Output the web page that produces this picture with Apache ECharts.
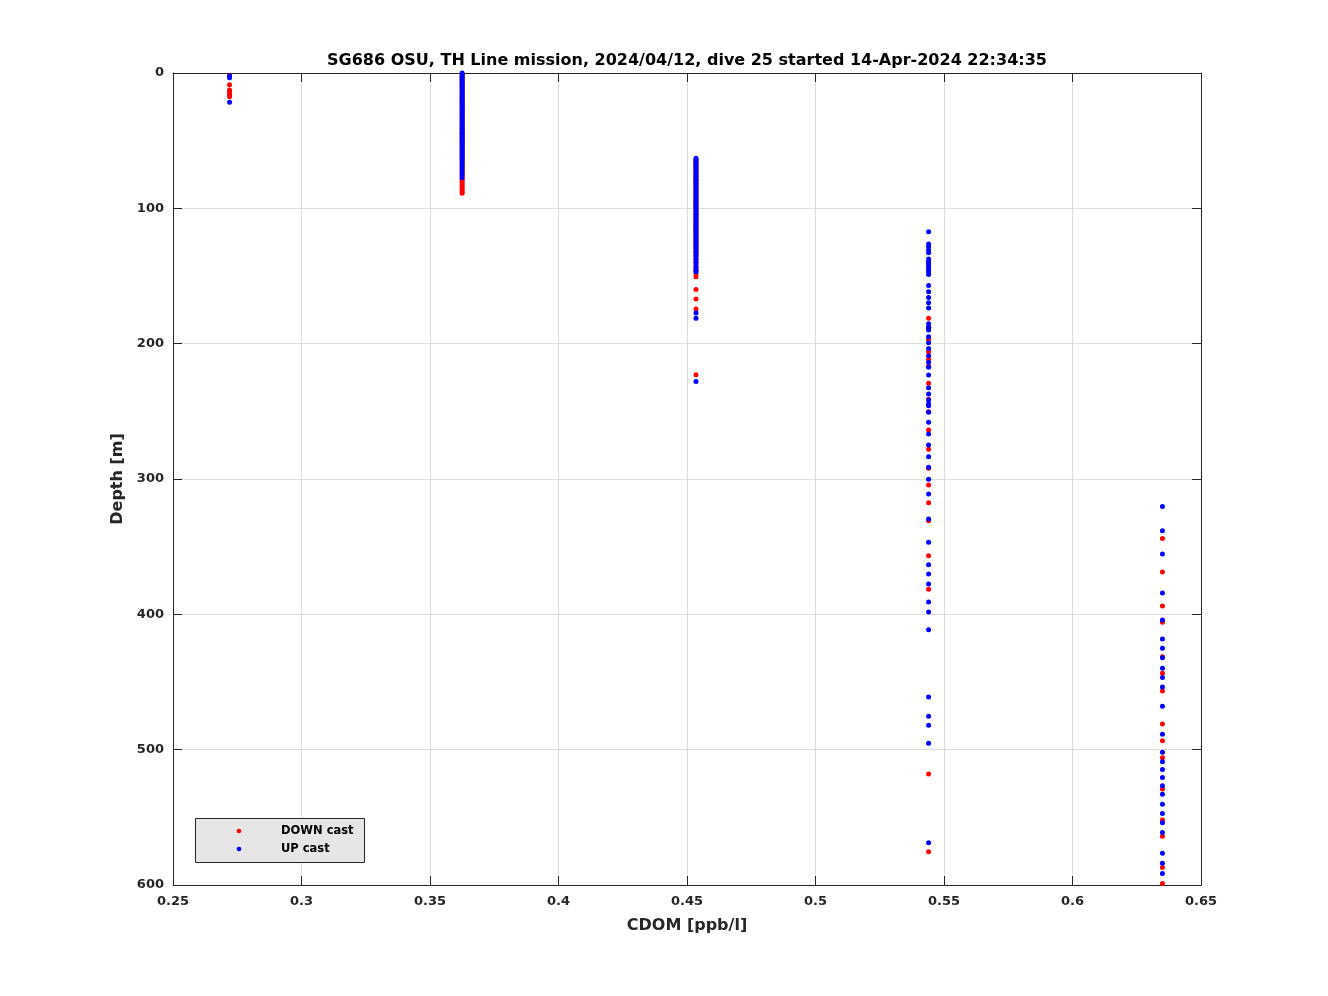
<!DOCTYPE html>
<html>
<head>
<meta charset="utf-8">
<script src="https://cdn.jsdelivr.net/npm/echarts@6/dist/echarts.min.js"></script>
<style>html,body{margin:0;padding:0;background:#fff;}#c{width:1328px;height:996px;}</style>
</head>
<body>
<div id="c"></div>
<script>
// CDOM levels (ppb/l) of the five quantised columns
const cdomLevels = [0.272, 0.3625, 0.4535, 0.544, 0.635];
const xTicks = [0.25, 0.3, 0.35, 0.4, 0.45, 0.5, 0.55, 0.6, 0.65];
const yTicks = [0, 100, 200, 300, 400, 500, 600];

// DOWN cast depths (m), per column
const down1 = [2, 8.6, 12.6, 14.3, 16, 17.5];
const down2 = [0.6, 2.4, 4.3, 6.2, 8.1, 10, 12, 14, 16, 18, 20.1, 22.2, 24.3, 26.4, 28.5, 30.6, 32.7, 34.8, 36.9, 39, 41.1, 43.2, 45.3, 47.4, 49.5, 51.6, 53.7, 55.8, 57.9, 60, 62.1, 64.2, 66.3, 68.4, 70.5, 72.4, 74.2, 76, 77.7, 79.3, 80.8, 82.2, 83.6, 85, 86.3, 87.6, 88.8];
const down3 = [64.5, 66.8, 69.2, 71.6, 74, 76.5, 79, 81.5, 84, 86.5, 89, 91.5, 94, 96.5, 99, 101.5, 104, 106.5, 109, 111.5, 114, 116.5, 119, 121.5, 124, 126.6, 129.2, 131.9, 134.6, 137.4, 140.2, 143.1, 146, 148.5, 150.5, 160, 167, 174.4, 223];
const down4 = [181.3, 187.9, 196.8, 205.9, 211.6, 216.5, 229.3, 241.1, 250.3, 263.8, 278.1, 292.1, 304.4, 317.5, 330.8, 356.7, 381.5, 518, 575.4];
const down5 = [343.9, 368.7, 393.9, 405.9, 431.3, 443.6, 456.7, 481.1, 493.4, 506, 529.1, 552, 563.9, 587, 598.9];

// UP cast depths (m), per column
const up1 = [2.2, 3.5, 21.7];
const up2 = [0, 1.2, 2.5, 3.6, 4.9, 6.1, 7.4, 8.6, 9.8, 11.1, 12.3, 13.5, 14.8, 16, 17.3, 18.5, 19.7, 21, 22.2, 23.4, 24.7, 25.9, 27.2, 28.4, 29.6, 30.9, 32.1, 33.3, 34.6, 35.8, 37.1, 38.3, 39.5, 40.8, 42, 43.2, 44.5, 45.7, 47, 48.2, 49.4, 50.7, 51.9, 53.1, 54.4, 55.6, 56.9, 58.1, 59.3, 60.6, 61.8, 63, 64.3, 65.8, 67.4, 69.1, 70.9, 72.8, 74.9, 77.3];
const up3 = [63, 64.1, 65.3, 66.4, 67.6, 68.7, 69.9, 71, 72.2, 73.3, 74.5, 75.6, 76.8, 77.9, 79.1, 80.2, 81.4, 82.5, 83.7, 84.8, 86, 87.1, 88.3, 89.4, 90.6, 91.7, 92.9, 94, 95.2, 96.3, 97.5, 98.6, 99.8, 100.9, 102.1, 103.2, 104.4, 105.5, 106.7, 107.8, 109, 110.1, 111.3, 112.4, 113.6, 114.7, 115.9, 117, 118.2, 119.3, 120.5, 121.6, 122.8, 123.9, 125.1, 126.3, 127.6, 128.9, 130.3, 131.7, 133.2, 134.8, 136.4, 138.1, 139.9, 141.8, 143.7, 145.5, 146.8, 177.4, 181.3, 228];
const up4 = [117.3, 126.4, 128.3, 130.8, 132.8, 137.4, 139.4, 141.1, 143.1, 145.1, 146.8, 148.8, 157.1, 161.6, 165.8, 169.7, 173.6, 185.2, 187.9, 189.9, 194.8, 199.3, 203.5, 208.9, 213.8, 217.5, 223.2, 232.5, 237.2, 241.6, 244.6, 245.8, 250.7, 258.1, 266.8, 274.9, 283.5, 291.4, 300.2, 311.1, 329.6, 346.8, 363.3, 370.2, 377.6, 390.9, 398.3, 411.3, 461.1, 475.4, 482, 495.3, 568.7];
const up5 = [320.4, 338.2, 355.4, 384.2, 404.2, 418.2, 425.1, 432, 439.9, 446.6, 453.7, 468, 488.7, 502, 508.9, 514.6, 520.5, 526.6, 533, 540.4, 547.1, 554, 561.2, 576.6, 584, 591.5];

const downCols = [down1, down2, down3, down4, down5];
const upCols = [up1, up2, up3, up4, up5];

function toPairs(cols) {
  const out = [];
  cols.forEach((arr, i) => arr.forEach(d => out.push([cdomLevels[i], d])));
  return out;
}

const FONT = 'DejaVu Sans';
const chart = echarts.init(document.getElementById('c'), null, {renderer: 'canvas'});

const baseX = {
  type: 'value', min: 0.25, max: 0.65, interval: 0.05,
  axisLine: {show: true, onZero: false, lineStyle: {color: '#262626', width: 1}},
  axisTick: {show: true, inside: true, length: 9, lineStyle: {color: '#262626'}},
  splitLine: {show: false}
};
const baseY = {
  type: 'value', min: 0, max: 600, interval: 100, inverse: true,
  axisLine: {show: true, onZero: false, lineStyle: {color: '#262626', width: 1}},
  axisTick: {show: true, inside: true, length: 9, lineStyle: {color: '#262626'}},
  splitLine: {show: false}
};

chart.setOption({
  animation: false,
  backgroundColor: '#ffffff',
  title: {
    text: 'SG686 OSU, TH Line mission, 2024/04/12, dive 25 started 14-Apr-2024 22:34:35',
    left: 682, top: 48, textAlign: 'center',
    textStyle: {fontFamily: FONT, fontWeight: 'bold', fontSize: 16, color: '#000'}
  },
  grid: {left: 173, right: 127, top: 73, bottom: 111, containLabel: false},
  xAxis: [
    Object.assign({}, baseX, {
      position: 'bottom',
      name: 'CDOM [ppb/l]', nameLocation: 'middle', nameGap: 33,
      nameTextStyle: {fontFamily: FONT, fontWeight: 'bold', fontSize: 16, color: '#262626'},
      axisLabel: {show: true, margin: 10, fontFamily: FONT, fontWeight: 'bold', fontSize: 13, color: '#262626',
        formatter: v => String(+v.toFixed(2))},
      splitLine: {show: true, lineStyle: {color: '#dedede', width: 1}}
    }),
    Object.assign({}, baseX, {position: 'top', axisLabel: {show: false}})
  ],
  yAxis: [
    Object.assign({}, baseY, {
      position: 'left',
      name: 'Depth [m]', nameLocation: 'middle', nameGap: 46, nameRotate: 90,
      nameTextStyle: {fontFamily: FONT, fontWeight: 'bold', fontSize: 16, color: '#262626'},
      axisLabel: {show: true, margin: 9, fontFamily: FONT, fontWeight: 'bold', fontSize: 13, color: '#262626'},
      splitLine: {show: true, lineStyle: {color: '#dedede', width: 1}}
    }),
    Object.assign({}, baseY, {position: 'right', axisLabel: {show: false}})
  ],
  series: [
    {
      name: 'DOWN cast', type: 'scatter', xAxisIndex: 0, yAxisIndex: 0,
      symbol: 'circle', symbolSize: 5, z: 2,
      itemStyle: {color: '#ff0000', opacity: 1},
      data: toPairs(downCols)
    },
    {
      name: 'UP cast', type: 'scatter', xAxisIndex: 0, yAxisIndex: 0,
      symbol: 'circle', symbolSize: 5, z: 3,
      itemStyle: {color: '#0000ff', opacity: 1},
      data: toPairs(upCols)
    }
  ],
  graphic: [
    {type: 'rect', left: 195, top: 818, z: 100,
      shape: {width: 169, height: 44},
      style: {fill: '#e6e6e6', stroke: '#262626', lineWidth: 1}},
    {type: 'circle', z: 101, shape: {cx: 239, cy: 831, r: 2.3}, style: {fill: '#ff0000'}},
    {type: 'circle', z: 101, shape: {cx: 239, cy: 849, r: 2.3}, style: {fill: '#0000ff'}},
    {type: 'text', z: 101, left: 281, top: 825,
      style: {text: 'DOWN cast', fill: '#000', font: 'bold 11.5px "DejaVu Sans"'}},
    {type: 'text', z: 101, left: 281, top: 843,
      style: {text: 'UP cast', fill: '#000', font: 'bold 11.5px "DejaVu Sans"'}}
  ]
});
</script>
</body>
</html>
